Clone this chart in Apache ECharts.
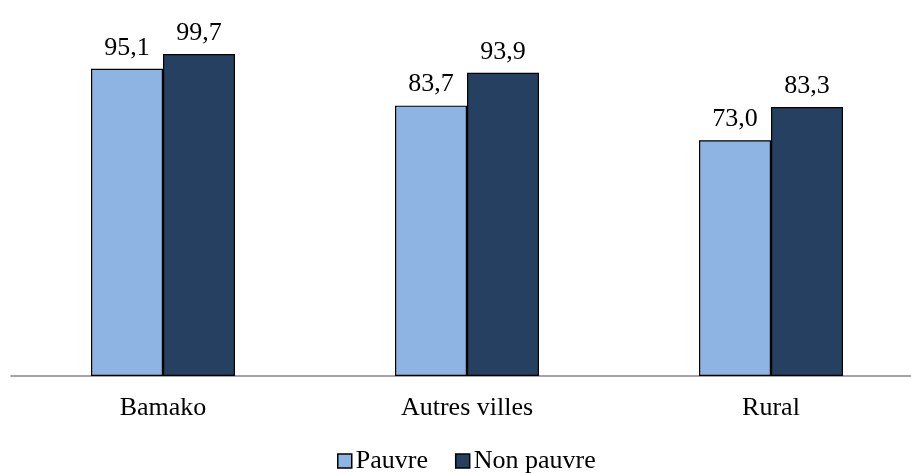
<!DOCTYPE html>
<html>
<head>
<meta charset="utf-8">
<script src="https://cdn.jsdelivr.net/npm/echarts@6/dist/echarts.min.js"></script>
<style>
  html, body { margin: 0; padding: 0; background: #fff; }
  #chart { width: 911px; height: 473px; }
</style>
</head>
<body>
<div id="chart"></div>
<script>
const categories = ['Bamako', 'Autres villes', 'Rural'];
const pauvre = [95.1, 83.7, 73.0];
const nonPauvre = [99.7, 93.9, 83.3];

const fmt = (p) => p.value.toFixed(1).replace('.', ',');
const font = '"Liberation Serif", "Times New Roman", serif';

const chart = echarts.init(document.getElementById('chart'));
chart.setOption({
    animation: false,
    textStyle: { fontFamily: font },
    grid: { left: 11, width: 912, top: 53, bottom: 97, outerBoundsMode: 'none', containLabel: false },
    legend: {
        top: 448,
        left: 337,
        padding: 0,
        icon: 'rect',
        itemWidth: 14,
        itemHeight: 14,
        itemGap: 27,
        textStyle: { fontFamily: font, fontSize: 26, color: '#000', padding: [0, 0, 0, -1] },
        data: [
            { name: 'Pauvre', itemStyle: { borderColor: '#000', borderWidth: 1.5 } },
            { name: 'Non pauvre', itemStyle: { borderColor: '#000', borderWidth: 1.5 } },
        ],
    },
    xAxis: {
        type: 'category',
        data: categories,
        axisLine: { lineStyle: { color: '#868686', width: 1.5 } },
        axisTick: { show: false },
        axisLabel: { fontFamily: font, fontSize: 26, color: '#000', margin: 19 },
    },
    yAxis: {
        type: 'value',
        min: 0,
        max: 100,
        show: false,
        splitLine: { show: false },
    },
    series: [
        {
            name: 'Pauvre',
            type: 'bar',
            data: pauvre,
            barWidth: 72,
            barGap: '0%',
            itemStyle: { color: '#8EB4E3', borderColor: '#000', borderWidth: 1.2 },
            label: { show: true, position: 'top', distance: 8, formatter: fmt, fontFamily: font, fontSize: 26, color: '#000' },
        },
        {
            name: 'Non pauvre',
            type: 'bar',
            data: nonPauvre,
            barWidth: 72,
            barGap: '0%',
            itemStyle: { color: '#254061', borderColor: '#000', borderWidth: 1.2 },
            label: { show: true, position: 'top', distance: 8, formatter: fmt, fontFamily: font, fontSize: 26, color: '#000' },
        },
    ],
});
</script>
</body>
</html>
